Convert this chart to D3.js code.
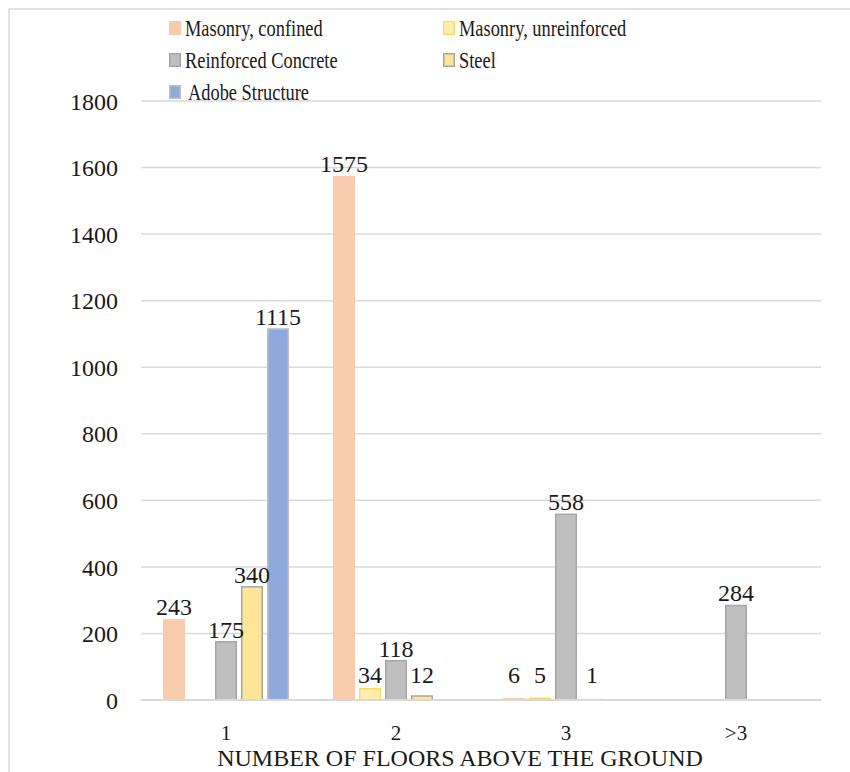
<!DOCTYPE html>
<html>
<head>
<meta charset="utf-8">
<script src="https://cdn.jsdelivr.net/npm/d3@7"></script>
<style>
  html, body { margin: 0; padding: 0; background: #fff; }
  svg { display: block; font-family: "Liberation Serif", "Times New Roman", serif; }
</style>
</head>
<body>
<svg id="chart" width="850" height="772"></svg>
<script>
// ---- data ----
const categories = ["1", "2", "3", ">3"];
const seriesNames = ["Masonry, confined", "Masonry, unreinforced", "Reinforced Concrete", "Steel", "Adobe Structure"];
const masonryConfined = [243, 1575, 6, null];
const masonryUnreinforced = [null, 34, 5, null];
const reinforcedConcrete = [175, 118, 558, 284];
const steel = [340, 12, 1, null];
const adobe = [1115, null, null, null];
const yTicks = [0, 200, 400, 600, 800, 1000, 1200, 1400, 1600, 1800];
const xTitle = "NUMBER OF FLOORS ABOVE THE GROUND";

const seriesValues = [masonryConfined, masonryUnreinforced, reinforcedConcrete, steel, adobe];
const fills = ["#F8CBAD", "#FFF0B0", "#BFBFBF", "#FFE597", "#8EA9DB"];
const strokes = ["none", "#FFD966", "#A6A6A6", "#A6A6A6", "#BFBFBF"];

const svg = d3.select("#chart");

// frame
svg.append("rect").attr("x", 9).attr("y", 9).attr("width", 900).attr("height", 900)
  .attr("fill", "none").attr("stroke", "#D9D9D9").attr("stroke-width", 1.5);

const plotLeft = 141, plotRight = 821, plotTop = 101, plotBottom = 700;
const y = d3.scaleLinear().domain([0, 1800]).range([plotBottom, plotTop]);
const x0 = d3.scaleBand().domain(categories).range([plotLeft, plotRight]).padding(0);
const x1 = d3.scaleBand().domain(seriesNames).range([22, 148]).paddingInner(0.154).paddingOuter(0);

// gridlines
svg.append("g").selectAll("line").data(yTicks.filter(d => d > 0)).join("line")
  .attr("x1", plotLeft).attr("x2", plotRight)
  .attr("y1", d => y(d)).attr("y2", d => y(d))
  .attr("stroke", "#D9D9D9").attr("stroke-width", 1.5);

// y axis labels
const yAxis = d3.axisLeft(y).tickValues(yTicks).tickFormat(d3.format("d")).tickSize(0).tickPadding(0);
const gy = svg.append("g").attr("transform", `translate(118,0)`).call(yAxis);
gy.select(".domain").remove();
gy.selectAll("text").attr("font-size", 24).attr("fill", "#1a1a1a")
  .attr("font-family", "Liberation Serif, serif").attr("dy", "0.34em");

// bars
const barData = [];
categories.forEach((c, ci) => {
  seriesNames.forEach((s, si) => {
    const v = seriesValues[si][ci];
    if (v !== null && v !== undefined) barData.push({ c, s, si, v });
  });
});

const gb = svg.append("g");
gb.selectAll("rect").data(barData).join("rect")
  .attr("x", d => x0(d.c) + x1(d.s) + (strokes[d.si] === "none" ? 0 : 0.75))
  .attr("width", d => x1.bandwidth() - (strokes[d.si] === "none" ? 0 : 1.5))
  .attr("y", d => y(d.v))
  .attr("height", d => Math.max(0, plotBottom - y(d.v)))
  .attr("fill", d => fills[d.si])
  .attr("stroke", d => strokes[d.si])
  .attr("stroke-width", 1.5);

// axis baseline
svg.append("line").attr("x1", plotLeft).attr("x2", plotRight).attr("y1", plotBottom).attr("y2", plotBottom)
  .attr("stroke", "#D9D9D9").attr("stroke-width", 2);

// data labels
svg.append("g").selectAll("text").data(barData).join("text")
  .attr("x", d => x0(d.c) + x1(d.s) + x1.bandwidth() / 2)
  .attr("y", d => Math.min(y(d.v) - 4, 683))
  .attr("text-anchor", "middle")
  .attr("font-size", 24).attr("fill", "#1a1a1a")
  .text(d => d.v);

// x tick labels
const xAxis = d3.axisBottom(x0).tickSize(0).tickPadding(0);
const gx = svg.append("g").attr("transform", `translate(0,740)`).call(xAxis);
gx.select(".domain").remove();
gx.selectAll("text").attr("font-size", 21).attr("fill", "#1a1a1a")
  .attr("font-family", "Liberation Serif, serif").attr("dy", 0);

// x title
svg.append("text").attr("x", 460).attr("y", 766).attr("text-anchor", "middle")
  .attr("font-size", 24).attr("fill", "#1a1a1a").text(xTitle);

// legend
const legendPos = [[169, 28], [443, 28], [169, 60], [443, 60], [169, 92]];
const lg = svg.append("g");
seriesNames.forEach((s, i) => {
  const [lx, ly] = legendPos[i];
  const g = lg.append("g");
  g.append("rect").attr("x", lx + (strokes[i] === "none" ? 0 : 0.75)).attr("y", ly - 7 + (strokes[i] === "none" ? 0 : 0.75))
    .attr("width", strokes[i] === "none" ? 12 : 10.5).attr("height", strokes[i] === "none" ? 14 : 12.5)
    .attr("fill", fills[i]).attr("stroke", strokes[i]).attr("stroke-width", 1.5);
  g.append("text")
    .attr("transform", `translate(${lx + (i === 4 ? 19 : 16)},${ly + 8}) scale(0.8,1)`)
    .attr("font-size", 23).attr("fill", "#1a1a1a").text(s);
});
</script>
</body>
</html>
